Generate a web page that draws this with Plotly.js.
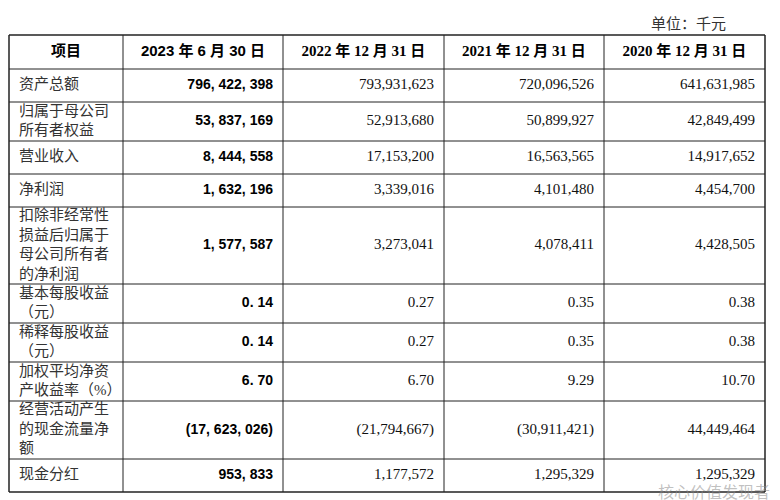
<!DOCTYPE html>
<html>
<head>
<meta charset="utf-8">
<script src="https://cdn.plot.ly/plotly-3.0.1.min.js"></script>
<style>html,body{margin:0;padding:0;background:#fff;}#chart{width:780px;height:500px;}</style>
</head>
<body>
<div id="chart"></div>
<script>
// ---- data ----
const headers = ['项目', '2023 年 6 月 30 日', '2022 年 12 月 31 日', '2021 年 12 月 31 日', '2020 年 12 月 31 日'];
const items = [
  '资产总额',
  '归属于母公司<br>所有者权益',
  '营业收入',
  '净利润',
  '扣除非经常性<br>损益后归属于<br>母公司所有者<br>的净利润',
  '基本每股收益<br>（元）',
  '稀释每股收益<br>（元）',
  '加权平均净资<br>产收益率（%）',
  '经营活动产生<br>的现金流量净<br>额',
  '现金分红'
];
const v2023 = ['796, 422, 398', '53, 837, 169', '8, 444, 558', '1, 632, 196', '1, 577, 587', '0. 14', '0. 14', '6. 70', '(17, 623, 026)', '953, 833'];
const v2022 = ['793,931,623', '52,913,680', '17,153,200', '3,339,016', '3,273,041', '0.27', '0.27', '6.70', '(21,794,667)', '1,177,572'];
const v2021 = ['720,096,526', '50,899,927', '16,563,565', '4,101,480', '4,078,411', '0.35', '0.35', '9.29', '(30,911,421)', '1,295,329'];
const v2020 = ['641,631,985', '42,849,499', '14,917,652', '4,454,700', '4,428,505', '0.38', '0.38', '10.70', '44,449,464', '1,295,329'];
const unitNote = '单位：千元';
const watermark = '核心价值发现者';

// ---- layout constants ----
const colWidths = [114, 160, 161, 160, 161];
const tableLeft = 9, tableTop = 35, headerH = 34, lineH = 19, singleH = 33, pad = 10;

const colEdges = [tableLeft];
colWidths.forEach(w => colEdges.push(colEdges[colEdges.length - 1] + w));
const tableRight = colEdges[colEdges.length - 1];

const rowHeights = items.map(s => {
  const n = s.split('<br>').length;
  return n === 1 ? singleH : lineH * n + 1;
});
const rowEdges = [tableTop, tableTop + headerH];
rowHeights.forEach(h => rowEdges.push(rowEdges[rowEdges.length - 1] + h));
const tableBottom = rowEdges[rowEdges.length - 1];
const rowCenters = rowHeights.map((h, i) => rowEdges[i + 1] + h / 2);

const serif = 'Liberation Serif, Times New Roman, Noto Sans CJK SC, serif';
const sans = 'Liberation Sans, Arial, Noto Sans CJK SC, sans-serif';

const traces = [];
// header
traces.push({
  type: 'scatter', mode: 'text',
  x: colWidths.map((w, i) => colEdges[i] + w / 2),
  y: headers.map(() => tableTop + headerH / 2),
  text: headers,
  textposition: 'middle center',
  textfont: {
    family: headers.map((h, i) => i === 1 ? sans : serif),
    size: 15, color: '#000', weight: 'bold'
  },
  hoverinfo: 'skip', showlegend: false, cliponaxis: false
});
// labels
traces.push({
  type: 'scatter', mode: 'text',
  x: items.map(() => tableLeft + pad),
  y: rowCenters,
  text: items,
  textposition: 'middle right',
  textfont: {family: serif, size: 15, color: '#333'},
  hoverinfo: 'skip', showlegend: false, cliponaxis: false
});
// value columns
const cols = [v2023, v2022, v2021, v2020];
cols.forEach((vals, ci) => {
  traces.push({
    type: 'scatter', mode: 'text',
    x: vals.map(() => colEdges[ci + 2] - pad),
    y: rowCenters,
    text: vals,
    textposition: 'middle left',
    textfont: ci === 0
      ? {family: sans, size: 14, color: '#000', weight: 'bold'}
      : {family: serif, size: 15, color: '#111'},
    hoverinfo: 'skip', showlegend: false, cliponaxis: false
  });
});

// grid lines
const shapes = [];
rowEdges.forEach((y, i) => {
  const outer = (i === 0 || i === rowEdges.length - 1);
  shapes.push({type: 'line', xref: 'x', yref: 'y', x0: tableLeft, x1: tableRight, y0: y, y1: y,
    line: {color: '#222', width: outer ? 1.5 : 1}});
});
colEdges.forEach((x, i) => {
  const outer = (i === 0 || i === colEdges.length - 1);
  shapes.push({type: 'line', xref: 'x', yref: 'y', x0: x, x1: x, y0: tableTop, y1: tableBottom,
    line: {color: '#222', width: outer ? 1.5 : 1}});
});

const layout = {
  width: 780, height: 500,
  margin: {l: 0, r: 0, t: 0, b: 0},
  paper_bgcolor: '#fff', plot_bgcolor: '#fff',
  xaxis: {range: [0, 780], visible: false, fixedrange: true},
  yaxis: {range: [500, 0], visible: false, fixedrange: true},
  shapes: shapes,
  annotations: [
    {xref: 'x', yref: 'y', x: 728, y: 24, text: unitNote, showarrow: false,
     xanchor: 'right', yanchor: 'middle', font: {family: serif, size: 15, color: '#333'}},
    {xref: 'x', yref: 'y', x: 772, y: 492, text: watermark, showarrow: false,
     xanchor: 'right', yanchor: 'middle', font: {family: sans, size: 16, color: 'rgba(140,140,140,0.55)'}}
  ],
  showlegend: false
};

Plotly.newPlot('chart', traces, layout, {displayModeBar: false, staticPlot: true});
</script>
</body>
</html>
